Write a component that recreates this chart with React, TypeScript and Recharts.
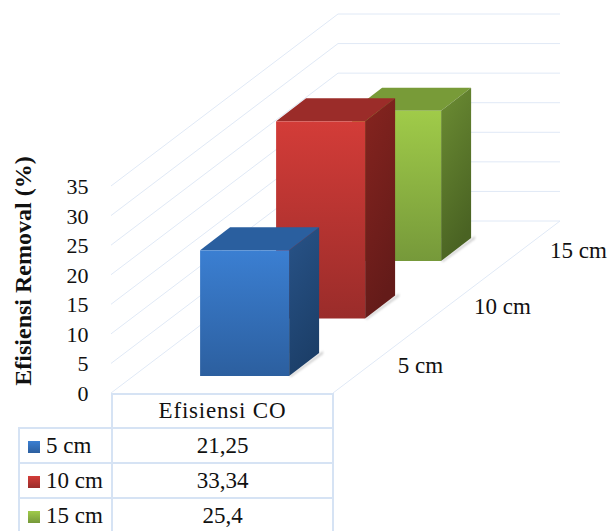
import { BarChart, Bar, XAxis, YAxis, CartesianGrid } from "recharts";

const categories = ["5 cm", "10 cm", "15 cm"];
const removal = [21.25, 33.34, 25.4];
const removalLabels = ["21,25", "33,34", "25,4"];
const yTicks = [0, 5, 10, 15, 20, 25, 30, 35];
const seriesName = "Efisiensi CO";
const yTitle = "Efisiensi Removal (%)";

const FONT = '"Liberation Serif", "Times New Roman", serif';
const GRID = "#e0e9f6";
const BORDER = "#d6e3f4";

// Oblique projection used for the box faces and the walls
const WALL_DX = 227;
const WALL_DY = 172;
const WALL_LEFT = 111;
const WALL_RIGHT = 560;
const BOX_WIDTH = 89;
const BOX_DX = 30;
const BOX_DY = 23;
const ROW_LIFT = 57.5;
const FIRST_LIFT = 17;

const COLORS: Record<string, { id: string; front: [string, string]; side: [string, string]; top: string }> = {
  "5 cm": { id: "blue", front: ["#3b7fd2", "#2c5f9f"], side: ["#285388", "#1c3f69"], top: "#2a5f9f" },
  "10 cm": { id: "red", front: ["#d33c38", "#9a2c2a"], side: ["#86241f", "#641b19"], top: "#9b2c29" },
  "15 cm": { id: "green", front: ["#a0cb49", "#76993a"], side: ["#6c8d33", "#4a6323"], top: "#789b38" },
};

// Drawn back to front so the nearer boxes cover the farther ones
const rows = categories
  .map((category, i) => ({ category, removal: removal[i] }))
  .reverse();

function Box3D(props: any) {
  const { x: bandX, y, width: bandWidth, height, payload } = props;
  const row = categories.indexOf(payload.category);
  const c = COLORS[payload.category];
  const lift = FIRST_LIFT + row * ROW_LIFT;
  const x = bandX + bandWidth / 2 - BOX_WIDTH / 2;
  const top = y - lift;
  const bottom = y + height - lift;
  const right = x + BOX_WIDTH;
  return (
    <g>
      <polygon
        points={`${right},${bottom} ${right + BOX_DX + 4},${bottom - BOX_DY - 2} ${right + BOX_DX + 4},${bottom - BOX_DY + 1} ${right + 2},${bottom + 1}`}
        fill="#777"
        opacity={0.35}
        filter="url(#floorShadow)"
      />
      <polygon
        points={`${x},${top} ${x + BOX_DX},${top - BOX_DY} ${right + BOX_DX},${top - BOX_DY} ${right},${top}`}
        fill={c.top}
      />
      <polygon
        points={`${right},${top} ${right + BOX_DX},${top - BOX_DY} ${right + BOX_DX},${bottom - BOX_DY} ${right},${bottom}`}
        fill={`url(#side-${c.id})`}
      />
      <rect x={x} y={top} width={BOX_WIDTH} height={height} fill={`url(#front-${c.id})`} />
    </g>
  );
}

function WallLine(props: any) {
  const { x1, y1, y2, index } = props;
  const backY = y1 - WALL_DY;
  const backX = WALL_LEFT + WALL_DX;
  return (
    <g key={`wall-${index}-${y2}`} fill="none" stroke={GRID} strokeWidth={1}>
      <polyline points={`${WALL_LEFT},${y1} ${backX},${backY} ${WALL_RIGHT},${backY}`} />
      {index === 0 && x1 != null ? (
        <line x1={WALL_RIGHT - WALL_DX} y1={y1} x2={WALL_RIGHT} y2={backY} />
      ) : null}
    </g>
  );
}

function ValueTick(props: any) {
  const { y, payload } = props;
  return (
    <text x={88.5} y={y} dy={8} textAnchor="end" fontFamily={FONT} fontSize={22} fill="#111">
      {payload.value}
    </text>
  );
}

function DepthTick(props: any) {
  const { x, y, payload } = props;
  const row = categories.indexOf(payload.value);
  return (
    <text
      x={x + (row === 0 ? 176 : 182)}
      y={y - 28 - row * 57.5 - (row === 1 ? 1.5 : 0)}
      textAnchor="middle"
      fontFamily={FONT}
      fontSize={23}
      fill="#111"
    >
      {payload.value}
    </text>
  );
}

const cell = { border: `2px solid ${BORDER}`, padding: 0, textAlign: "center" as const, color: "#111" };

function DataTable() {
  return (
    <table
      style={{
        position: "absolute",
        left: 18,
        top: 393,
        width: 316,
        tableLayout: "fixed",
        borderCollapse: "collapse",
        fontFamily: FONT,
        fontSize: 23,
      }}
    >
      <colgroup>
        <col style={{ width: 93 }} />
        <col />
      </colgroup>
      <tbody>
        <tr style={{ height: 34 }}>
          <td style={{ ...cell, borderLeft: "none", borderTop: "none" }} />
          <td style={{ ...cell, letterSpacing: 0.8 }}>{seriesName}</td>
        </tr>
        {categories.map((category, i) => {
          const c = COLORS[category];
          return (
            <tr key={category} style={{ height: 35 }}>
              <td style={{ ...cell, textAlign: "left", whiteSpace: "nowrap" }}>
                <span
                  style={{
                    display: "inline-block",
                    width: 12,
                    height: 12,
                    margin: "0 6px 0 8px",
                    verticalAlign: 0,
                    background: `linear-gradient(${c.front[0]}, ${c.front[1]})`,
                  }}
                />
                {category}
              </td>
              <td style={cell}>{removalLabels[i]}</td>
            </tr>
          );
        })}
      </tbody>
    </table>
  );
}

export default function App() {
  return (
    <div style={{ position: "absolute", left: 0, top: 0, width: 608, height: 531, overflow: "hidden", background: "#fff" }}>
      <BarChart
        width={608}
        height={531}
        data={rows}
        margin={{ top: 186, right: 173.5, bottom: 108, left: 0 }}
      >
        <defs>
          {Object.values(COLORS).map((c) => (
            <g key={c.id}>
              <linearGradient id={`front-${c.id}`} x1="0" y1="0" x2="0" y2="1">
                <stop offset="0%" stopColor={c.front[0]} />
                <stop offset="100%" stopColor={c.front[1]} />
              </linearGradient>
              <linearGradient id={`side-${c.id}`} x1="0" y1="0" x2="0.3" y2="1">
                <stop offset="0%" stopColor={c.side[0]} />
                <stop offset="100%" stopColor={c.side[1]} />
              </linearGradient>
            </g>
          ))}
          <filter id="floorShadow" x="-20%" y="-20%" width="140%" height="140%">
            <feGaussianBlur stdDeviation="1" />
          </filter>
        </defs>
        <CartesianGrid vertical={false} horizontal={(p: any) => <WallLine {...p} />} />
        <XAxis
          dataKey="category"
          reversed
          height={30}
          axisLine={false}
          tickLine={false}
          interval={0}
          tick={<DepthTick />}
        />
        <YAxis
          width={206.5}
          domain={[0, 35]}
          ticks={yTicks}
          interval={0}
          axisLine={false}
          tickLine={false}
          tick={<ValueTick />}
          label={{
            content: () => (
              <text
                transform="translate(31 271) rotate(-90)"
                textAnchor="middle"
                fontFamily={FONT}
                fontSize={24}
                fontWeight="bold"
                fill="#111"
              >
                {yTitle}
              </text>
            ),
          }}
        />
        <Bar dataKey="removal" shape={<Box3D />} isAnimationActive={false} />
      </BarChart>
      <DataTable />
    </div>
  );
}
